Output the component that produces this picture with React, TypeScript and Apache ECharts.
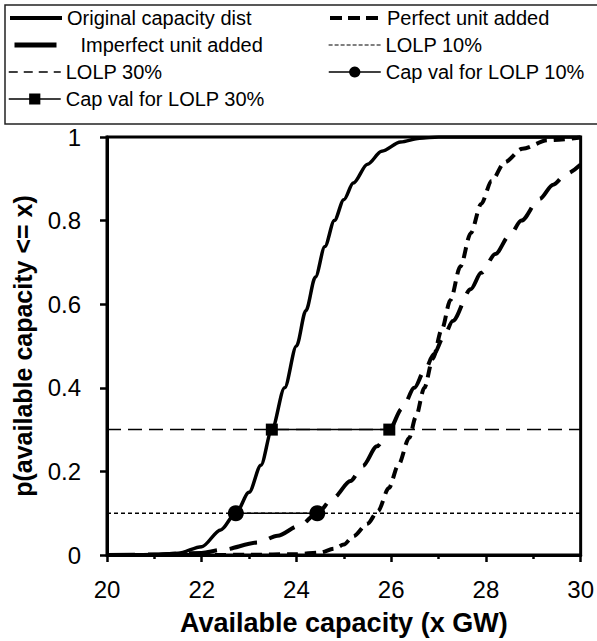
import React, { useEffect, useRef } from "react";
import * as echarts from "echarts";

// Original capacity distribution (CDF)
const origX = [20, 20.5, 21, 21.5, 22, 22.4, 22.72, 23, 23.25, 23.48, 23.75, 24, 24.2, 24.4, 24.6, 24.8, 25, 25.2, 25.5, 25.8, 26.2, 26.6, 27, 28, 29, 30];
const origY = [0, 0.0005, 0.001, 0.004, 0.02, 0.06, 0.1, 0.15, 0.215, 0.3, 0.4, 0.5, 0.585, 0.665, 0.738, 0.8, 0.85, 0.89, 0.935, 0.966, 0.988, 0.997, 1, 1, 1, 1];

// Perfect unit added
const perfX = [20, 22, 23, 24, 24.5, 24.8, 25, 25.2, 25.5, 25.72, 25.95, 26.15, 26.38, 26.52, 26.7, 26.88, 27.07, 27.25, 27.46, 27.68, 27.9, 28.12, 28.4, 28.77, 29.3, 30];
const perfY = [0, 0, 0.0005, 0.002, 0.006, 0.015, 0.025, 0.045, 0.075, 0.105, 0.16, 0.215, 0.28, 0.33, 0.4, 0.47, 0.54, 0.61, 0.69, 0.77, 0.84, 0.895, 0.94, 0.972, 0.992, 0.999];

// Imperfect unit added
const impX = [20, 21, 22, 22.4, 23.2, 23.6, 24.06, 24.44, 24.78, 25.14, 25.4, 25.7, 25.96, 26.23, 26.49, 26.7, 26.9, 27.1, 27.3, 27.68, 27.9, 28.2, 28.5, 28.75, 29.13, 29.42, 29.7, 30];
const impY = [0, 0.001, 0.005, 0.012, 0.03, 0.046, 0.07, 0.1, 0.137, 0.177, 0.213, 0.26, 0.3, 0.35, 0.4, 0.44, 0.48, 0.52, 0.56, 0.636, 0.675, 0.72, 0.765, 0.8, 0.852, 0.886, 0.912, 0.934];

// LOLP levels
const lolp10X = [20, 30];
const lolp10Y = [0.1, 0.1];
const lolp30X = [20, 30];
const lolp30Y = [0.3, 0.3];

// Capacity value points
const capVal10X = [22.72, 24.44];
const capVal10Y = [0.1, 0.1];
const capVal30X = [23.48, 25.96];
const capVal30Y = [0.3, 0.3];

const seriesNames = [
  "Original capacity dist",
  "Perfect unit added",
  "Imperfect unit added",
  "LOLP 10%",
  "LOLP 30%",
  "Cap val for LOLP 10%",
  "Cap val for LOLP 30%",
];

const zip = (xs: number[], ys: number[]) => xs.map((x, i) => [x, ys[i]]);

const FONT = "'Liberation Sans', Arial, sans-serif";

export default function App() {
  const ref = useRef<HTMLDivElement>(null);
  useEffect(() => {
    const chart = echarts.init(ref.current!, undefined, { renderer: "svg" });
    const legendText = { fontSize: 20, color: "#000", fontFamily: FONT, lineHeight: 20 };
    const noSym = { opacity: 0 };
    const rowTop = [8, 35, 62, 89];
    const mkLegend = (
      name: string,
      left: number,
      top: number,
      width: number,
      item: any,
      textPad = 0
    ) => ({
      orient: "vertical",
      left,
      top,
      itemWidth: width,
      itemHeight: 14,
      padding: 0,
      textStyle: { ...legendText, padding: [0, 0, 0, textPad] },
      data: [{ name, ...item }],
    });
    chart.setOption({
      animation: false,
      backgroundColor: "#fff",
      textStyle: { fontFamily: FONT, color: "#000" },
      graphic: [
        {
          type: "rect",
          shape: { x: 5, y: 5, width: 600, height: 119 },
          style: { fill: "none", stroke: "#222", lineWidth: 1.5 },
          silent: true,
        },
      ],
      legend: [
        mkLegend(seriesNames[0], 8, rowTop[0], 52, { itemStyle: noSym, lineStyle: { width: 4 } }),
        mkLegend(seriesNames[2], 12, rowTop[1], 42, { itemStyle: noSym, lineStyle: { width: 5, type: "solid" } }, 19),
        mkLegend(seriesNames[4], 8, rowTop[2], 52, { itemStyle: noSym, lineStyle: { width: 1.5, type: [9, 6] } }),
        mkLegend(seriesNames[6], 8, rowTop[3], 52, { lineStyle: { width: 1.5 } }),
        mkLegend(seriesNames[1], 328, rowTop[0], 52, { itemStyle: noSym, lineStyle: { width: 4, type: [12, 6] } }),
        mkLegend(seriesNames[3], 328, rowTop[1], 52, { itemStyle: noSym, lineStyle: { width: 1.2, type: [4, 2] } }),
        mkLegend(seriesNames[5], 328, rowTop[2], 52, { lineStyle: { width: 1.5 } }),
      ],
      grid: {
        left: 107,
        right: 15,
        top: 137,
        bottom: 84,
        show: true,
        borderColor: "#000",
        borderWidth: 3,
      },
      xAxis: {
        type: "value",
        min: 20,
        max: 30,
        interval: 2,
        name: "Available capacity (x GW)",
        nameLocation: "middle",
        nameGap: 54,
        nameTextStyle: { fontSize: 27, fontWeight: "bold", color: "#000", fontFamily: FONT },
        axisLine: { show: true, lineStyle: { color: "#000", width: 3 } },
        axisTick: { show: true, inside: false, length: 7, lineStyle: { color: "#000", width: 2.5 } },
        minorTick: { show: true, splitNumber: 2, length: 4, lineStyle: { color: "#000", width: 2.5 } },
        axisLabel: { fontSize: 24, color: "#000", fontFamily: FONT, margin: 22 },
        splitLine: { show: false },
      },
      yAxis: {
        type: "value",
        min: 0,
        max: 1,
        interval: 0.2,
        name: "p(available capacity <= x)",
        nameLocation: "middle",
        nameGap: 72,
        nameTextStyle: { fontSize: 25, fontWeight: "bold", color: "#000", fontFamily: FONT },
        axisLine: { show: true, lineStyle: { color: "#000", width: 3 } },
        axisTick: { show: true, inside: false, length: 7, lineStyle: { color: "#000", width: 2.5 } },
        axisLabel: { fontSize: 24, color: "#000", fontFamily: FONT, margin: 26 },
        splitLine: { show: false },
      },
      series: [
        {
          name: seriesNames[0],
          type: "line",
          data: zip(origX, origY),
          symbol: "none",
          smooth: 0.3,
          smoothMonotone: "x",
          lineStyle: { color: "#000", width: 3.5, type: "solid" },
          itemStyle: { color: "#000" },
          z: 3,
        },
        {
          name: seriesNames[1],
          type: "line",
          data: zip(perfX, perfY),
          symbol: "none",
          smooth: 0.3,
          smoothMonotone: "x",
          lineStyle: { color: "#000", width: 4, type: [11, 7] },
          itemStyle: { color: "#000" },
          z: 3,
        },
        {
          name: seriesNames[2],
          type: "line",
          data: zip(impX, impY),
          symbol: "none",
          smooth: 0.3,
          smoothMonotone: "x",
          lineStyle: { color: "#000", width: 4, type: [28, 13] },
          itemStyle: { color: "#000" },
          z: 3,
        },
        {
          name: seriesNames[3],
          type: "line",
          data: zip(lolp10X, lolp10Y),
          symbol: "none",
          lineStyle: { color: "#000", width: 1.5, type: [4, 3] },
          itemStyle: { color: "#000" },
          z: 2,
        },
        {
          name: seriesNames[4],
          type: "line",
          data: zip(lolp30X, lolp30Y),
          symbol: "none",
          lineStyle: { color: "#000", width: 1.5, type: [14, 7] },
          itemStyle: { color: "#000" },
          z: 2,
        },
        {
          name: seriesNames[5],
          type: "line",
          data: zip(capVal10X, capVal10Y),
          symbol: "circle",
          symbolSize: 16,
          lineStyle: { color: "#000", width: 1.5, type: "solid" },
          itemStyle: { color: "#000" },
          z: 4,
        },
        {
          name: seriesNames[6],
          type: "line",
          data: zip(capVal30X, capVal30Y),
          symbol: "rect",
          symbolSize: 12,
          lineStyle: { color: "#000", width: 1.5, type: "solid" },
          itemStyle: { color: "#000" },
          z: 4,
        },
      ],
    });
    return () => chart.dispose();
  }, []);
  return (
    <div
      ref={ref}
      style={{ position: "absolute", left: 0, top: 0, width: 597, height: 641 }}
    />
  );
}
